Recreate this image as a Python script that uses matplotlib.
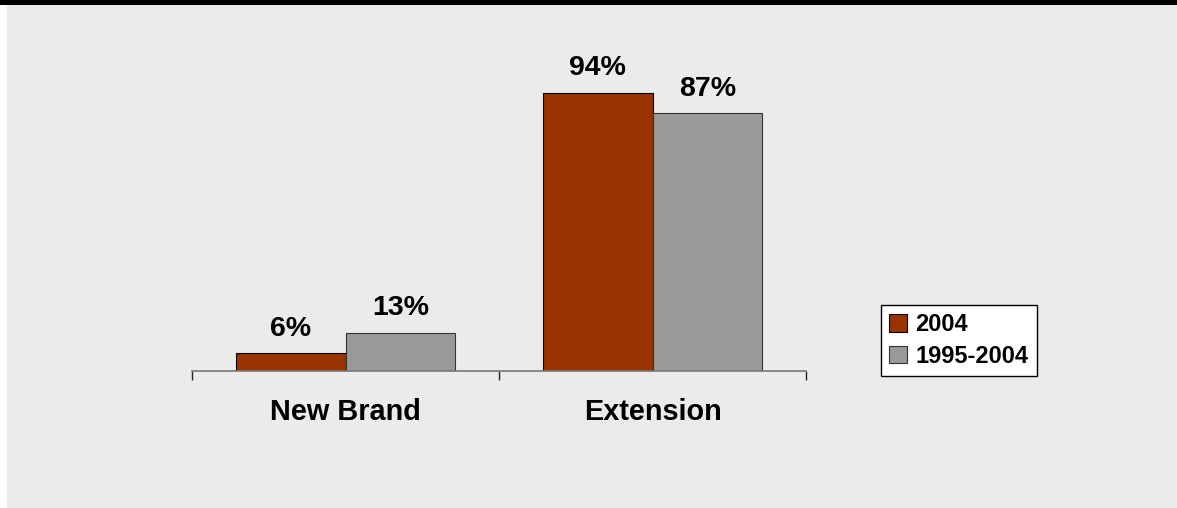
import numpy as np
import matplotlib
matplotlib.use("Agg")
import matplotlib.pyplot as plt
from matplotlib.patches import Rectangle

categories = ["New Brand", "Extension"]
series_names = ["2004", "1995-2004"]
values_2004 = [6, 94]
values_9504 = [13, 87]
colors = ["#993300", "#999999"]

plt.rcParams['font.family'] = ['Liberation Sans', 'DejaVu Sans']
plt.rcParams['font.weight'] = 'bold'

fig = plt.figure(figsize=(11.77, 5.08), dpi=100)
fig.patch.set_facecolor("white")
# gray panel and black top band
fig.patches.append(Rectangle((7/1177, 0), 1 - 7/1177, 1 - 5/508, transform=fig.transFigure,
                             facecolor="#EBEBEB", edgecolor="none", zorder=-10))
fig.patches.append(Rectangle((0, 1 - 5/508), 1, 5/508, transform=fig.transFigure,
                             facecolor="black", edgecolor="none", zorder=-10))

ax = fig.add_axes([192/1177, 137/508, 614/1177, 296/508])
ax.set_facecolor("none")

x = np.arange(len(categories))
w = 0.358
b1 = ax.bar(x - w/2, values_2004, w, color=colors[0], edgecolor="black", linewidth=0.8,
            label=series_names[0])
b2 = ax.bar(x + w/2, values_9504, w, color=colors[1], edgecolor="#333333", linewidth=0.8,
            label=series_names[1])

for bars, vals in [(b1, values_2004), (b2, values_9504)]:
    for rect, v in zip(bars, vals):
        ax.annotate(f"{v}%", (rect.get_x() + rect.get_width()/2, rect.get_height()),
                    xytext=(0, 12.5), textcoords="offset points", ha="center", va="baseline",
                    fontsize=20.5, fontweight="bold")

for i, c in enumerate(categories):
    ax.annotate(c, (i, 0), xycoords=("data", "axes fraction"), xytext=(0, -29.5),
                textcoords="offset points", ha="center", va="center",
                fontsize=20.8, fontweight="bold")

ax.set_xlim(-0.5, 1.5)
ax.set_ylim(0, 100)
ax.set_xticks([-0.5, 0.5, 1.5])
ax.set_xticklabels([])
ax.set_yticks([])
ax.tick_params(axis="x", direction="out", length=6.5, width=1, color="#222222")
for s in ["top", "right", "left"]:
    ax.spines[s].set_visible(False)
ax.spines["bottom"].set_color("#777777")
ax.spines["bottom"].set_linewidth(1.2)

leg = fig.legend(handles=[b1, b2], loc="upper left", bbox_to_anchor=(881/1177, 1 - 305/508),
                 frameon=True, fancybox=False, framealpha=1, fontsize=17,
                 handlelength=0.75, handleheight=0.75,
                 handletextpad=0.35, borderpad=0.35, labelspacing=0.35, borderaxespad=0)
leg.get_frame().set_edgecolor("black")
leg.get_frame().set_facecolor("white")
leg.get_frame().set_linewidth(1)
for t in leg.get_texts():
    t.set_fontweight("bold")

fig.savefig("out.png", dpi=100)
